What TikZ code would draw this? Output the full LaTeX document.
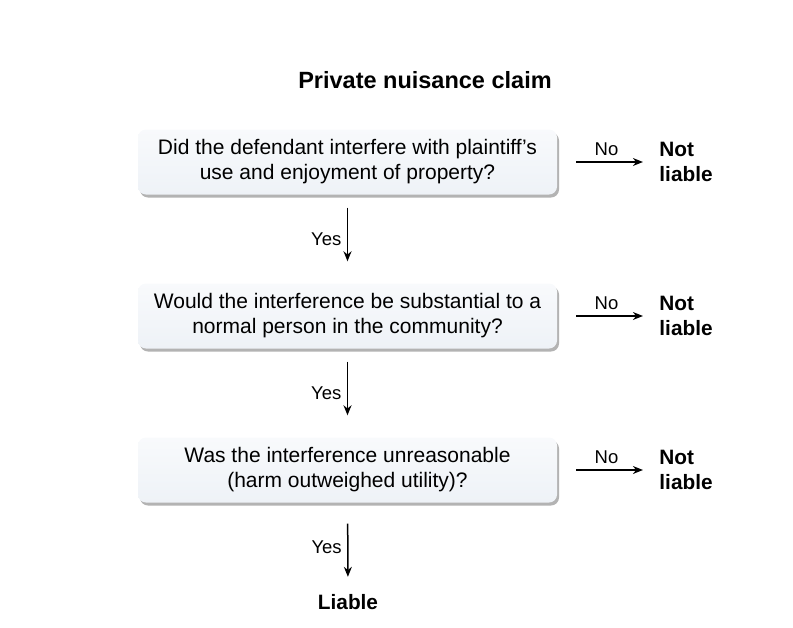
\documentclass[tikz,border=0pt]{standalone}
\usepackage{fontspec}
\setmainfont{Liberation Sans}
\usetikzlibrary{positioning,shadows,arrows.meta}
\definecolor{boxfill}{HTML}{EEF2F7}
\tikzset{
  question/.style={
    shape = rectangle,
    rounded corners = 8pt,
    minimum width = 419pt,
    minimum height = 65pt,
    align = center,
    top color = boxfill!40,
    bottom color = boxfill,
    drop shadow = {shadow xshift=2pt, shadow yshift=-3pt, fill=gray!80, opacity=0.75},
    font = \fontsize{21}{25}\selectfont
  },
  verdict/.style={
    align = left,
    font = \fontsize{20.8}{25}\selectfont\bfseries
  },
  arr/.style={
    line width = 1.5pt,
    -{Stealth[length=10pt,width=8pt]}
  },
  lab/.style={
    font = \fontsize{18.5}{20}\selectfont
  }
}
\begin{document}
\begin{tikzpicture}[x=1pt,y=-1pt]
  \useasboundingbox (0,0) rectangle (793,627);
  \node[font=\fontsize{23.5}{28}\selectfont\bfseries] (title) at (425,80) {Private nuisance claim};
  \node[question] (q1) at (347.5,162) {Did the defendant interfere with plaintiff's\\use and enjoyment of property?};
  \node[question] (q2) at (347.5,316) {Would the interference be substantial to a\\normal person in the community?};
  \node[question] (q3) at (347.5,470) {Was the interference unreasonable\\(harm outweighed utility)?};
  \node[verdict] (liable) at (348,602) {Liable};
  \foreach \i in {1,2,3}{
    \node[verdict, right=98.7pt of q\i] (nl\i) {Not\\liable};
    \draw[arr, shorten <=19pt, shorten >=13pt] (q\i) -- node[lab, above=2pt] {No} (nl\i);
  }
  \draw[arr, shorten <=13pt, shorten >=22pt] (q1) -- node[lab, left=2pt] {Yes} (q2);
  \draw[arr, shorten <=13pt, shorten >=22pt] (q2) -- node[lab, left=2pt] {Yes} (q3);
  \draw[arr, shorten <=21pt, shorten >=14pt] (q3) -- node[lab, left=2pt] {Yes} (liable);
\end{tikzpicture}
\end{document}
